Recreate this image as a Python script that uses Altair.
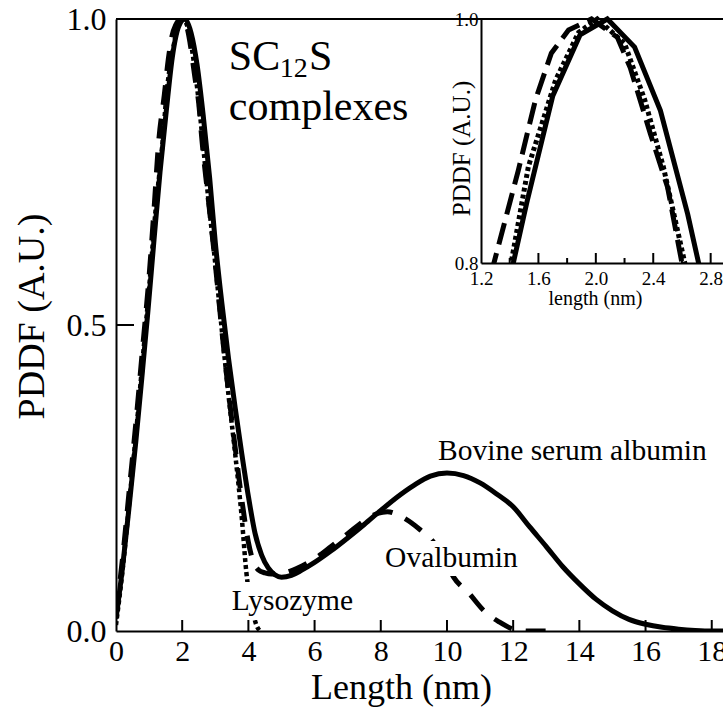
import altair as alt
import pandas as pd

FONT = "Liberation Serif"

# ---------------- data ----------------
# Bovine serum albumin (solid)
BSA_X = [0, 0.2, 0.4, 0.6, 0.8, 0.96, 1.15, 1.33, 1.52, 1.70, 1.89, 2.08, 2.27, 2.45, 2.64,
         2.83, 3.0, 3.2, 3.4, 3.6, 3.8, 4.0, 4.2, 4.4, 4.6, 4.8, 5.0, 5.3, 5.6, 6.0,
         6.5, 7.0, 7.5, 8.0, 8.5, 9.0, 9.5, 10.0, 10.5, 11.0, 11.5, 12.0, 12.5, 13.0, 13.5,
         14.0, 14.5, 15.0, 15.5, 16.0, 16.5, 17.0, 17.5, 18.0, 18.5]
BSA_Y = [0.02, 0.105, 0.205, 0.31, 0.425, 0.52, 0.64, 0.75, 0.85, 0.937, 0.987, 1.0, 0.977, 0.925, 0.84,
         0.74, 0.635, 0.535, 0.445, 0.365, 0.29, 0.22, 0.16, 0.124, 0.103, 0.092, 0.088, 0.091, 0.099, 0.112,
         0.131, 0.152, 0.174, 0.197, 0.219, 0.238, 0.253, 0.258, 0.254, 0.242, 0.224, 0.203, 0.17, 0.138, 0.105,
         0.077, 0.052, 0.033, 0.019, 0.011, 0.006, 0.003, 0.001, 0.0, 0.0]
# Ovalbumin (dashed)
OVA_X = [0, 0.2, 0.4, 0.6, 0.8, 1.0, 1.15, 1.29, 1.46, 1.58, 1.69, 1.81, 1.97, 2.15, 2.24,
         2.38, 2.5, 2.6, 2.8, 3.0, 3.2, 3.4, 3.6, 3.8, 4.0, 4.13, 4.3, 4.5, 4.7, 5.0,
         5.33, 5.54, 6.0, 6.5, 7.0, 7.5, 7.9, 8.2, 8.65, 9.2, 9.55, 9.9, 10.2, 10.66, 11.1,
         11.57, 12.08, 12.5, 13.0]
OVA_Y = [0.03, 0.12, 0.23, 0.34, 0.46, 0.58, 0.69, 0.80, 0.876, 0.934, 0.972, 0.991, 1.0, 0.985, 0.96,
         0.906, 0.862, 0.80, 0.70, 0.60, 0.49, 0.39, 0.30, 0.215, 0.145, 0.116, 0.1, 0.095, 0.093, 0.094,
         0.099, 0.104, 0.118, 0.138, 0.159, 0.18, 0.192, 0.195, 0.186, 0.165, 0.148, 0.12, 0.088, 0.062, 0.034,
         0.015, 0.002, 0.0, 0.0]
# Lysozyme (dotted)
LYS_X = [0, 0.2, 0.4, 0.6, 0.8, 1.0, 1.2, 1.41, 1.53, 1.72, 1.88, 2.01, 2.2, 2.34, 2.47,
         2.62, 2.8, 3.0, 3.2, 3.4, 3.6, 3.8, 3.94, 4.1, 4.24, 4.35]
LYS_Y = [0.01, 0.1, 0.21, 0.32, 0.44, 0.56, 0.69, 0.80, 0.879, 0.95, 0.989, 1.0, 0.98, 0.934, 0.879,
         0.80, 0.70, 0.60, 0.49, 0.385, 0.29, 0.185, 0.095, 0.04, 0.01, 0.0]

MAIN_X_TICKS = [0, 2, 4, 6, 8, 10, 12, 14, 16, 18]
MAIN_Y_TICKS = [0.0, 0.5, 1.0]
INSET_X_TICKS = [1.2, 1.6, 2.0, 2.4, 2.8]
INSET_X_MINOR = [1.4, 1.8, 2.2, 2.6]
INSET_Y_TICKS = [0.8, 1.0]

LABEL_TEXT = ["Bovine serum albumin", "Ovalbumin", "Lysozyme", "SC", "12", "S", "complexes"]
LABEL_X = [9.73, 8.13, 3.50, 3.41, 4.95, 5.83, 3.41]
LABEL_Y = [0.279, 0.105, 0.034, 0.917, 0.905, 0.917, 0.835]
LABEL_SIZE = [29.5, 29.5, 29.5, 42, 28, 42, 42]

# label backgrounds (white boxes that hide the curves behind two labels)
BOX_X0 = [3.42, 8.02]
BOX_X1 = [7.2, 12.3]
BOX_Y0 = [0.018, 0.09]
BOX_Y1 = [0.08, 0.147]

# ---------------- layout ----------------
W, H = 607, 612
X_DOMAIN = [0, 18.34]
Y_DOMAIN = [0, 1.0]
INSET_X_DOMAIN = [1.2, 2.886]
INSET_Y_DOMAIN = [0.8, 1.0]
INSET_LEFT = 365
INSET_H = 244

curves = pd.concat([
    pd.DataFrame({"x": BSA_X, "y": BSA_Y, "s": "BSA"}),
    pd.DataFrame({"x": OVA_X, "y": OVA_Y, "s": "OVA"}),
    pd.DataFrame({"x": LYS_X, "y": LYS_Y, "s": "LYS"}),
], ignore_index=True)

inset_curves = curves[(curves.x >= 1.0) & (curves.x <= 3.0) & (curves.y >= 0.65)]

xs = alt.Scale(domain=X_DOMAIN, nice=False, zero=False)
ys = alt.Scale(domain=Y_DOMAIN, nice=False, zero=False)

x_axis = alt.Axis(orient="bottom", values=MAIN_X_TICKS, format="d", labelFont=FONT, labelFontSize=30,
                  labelColor="black", labelPadding=5, labelFlush=False, ticks=False,
                  domainColor="black", domainWidth=2, grid=False,
                  title="Length (nm)", titleFont=FONT, titleFontSize=36, titleFontWeight="normal",
                  titleColor="black", titleX=285, titleY=67, titleBaseline="alphabetic", titleAlign="center")
y_axis = alt.Axis(orient="left", values=MAIN_Y_TICKS, format=".1f", labelFont=FONT, labelFontSize=32,
                  labelColor="black", labelPadding=10, labelFlush=False, ticks=False,
                  domainColor="black", domainWidth=2, grid=False,
                  title="PDDF (A.U.)", titleFont=FONT, titleFontSize=38, titleFontWeight="normal",
                  titleColor="black", titleAngle=270, titleX=-73, titleY=297,
                  titleBaseline="alphabetic", titleAlign="center")


def MX(f):
    return alt.X(f"{f}:Q", scale=xs, axis=x_axis)


def MY(f):
    return alt.Y(f"{f}:Q", scale=ys, axis=y_axis)


base = alt.Chart(curves)
solid = base.transform_filter(alt.datum.s == "BSA").mark_line(
    color="black", strokeWidth=5, interpolate="monotone", clip=True).encode(x=MX("x"), y=MY("y"))
dashed = base.transform_filter(alt.datum.s == "OVA").mark_line(
    color="black", strokeWidth=5, strokeDash=[20, 14], interpolate="monotone", clip=True).encode(x=MX("x"), y=MY("y"))
dotted = base.transform_filter(alt.datum.s == "LYS").mark_line(
    color="black", strokeWidth=4.5, strokeDash=[4, 3], interpolate="monotone", clip=True).encode(x=MX("x"), y=MY("y"))

xt = alt.Chart(pd.DataFrame({"t": [t for t in MAIN_X_TICKS if t > X_DOMAIN[0]]})).mark_rule(
    color="black", strokeWidth=2).encode(x=MX("t"), y=alt.value(H), y2=alt.value(H - 11))
yt = alt.Chart(pd.DataFrame({"t": [t for t in MAIN_Y_TICKS if Y_DOMAIN[0] < t < Y_DOMAIN[1]]})).mark_rule(
    color="black", strokeWidth=2).encode(y=MY("t"), x=alt.value(0), x2=alt.value(18))
top = alt.Chart(pd.DataFrame({"x0": [X_DOMAIN[0]], "x1": [X_DOMAIN[1]], "y": [Y_DOMAIN[1]]})).mark_rule(
    color="black", strokeWidth=2).encode(x=MX("x0"), x2="x1", y=MY("y"))

boxes = alt.Chart(pd.DataFrame({"bx0": BOX_X0, "bx1": BOX_X1, "by0": BOX_Y0, "by1": BOX_Y1})).mark_rect(
    color="white").encode(x=MX("bx0"), x2="bx1", y=MY("by0"), y2="by1")
texts = alt.Chart(pd.DataFrame({"label": LABEL_TEXT, "lx": LABEL_X, "ly": LABEL_Y, "fs": LABEL_SIZE})).mark_text(
    align="left", baseline="alphabetic", font=FONT, color="black").encode(
    x=MX("lx"), y=MY("ly"), text="label:N", size=alt.Size("fs:Q", scale=None))

main = alt.layer(solid, dashed, dotted, xt, yt, top, boxes, texts)

# ---------------- inset ----------------
ixs = alt.Scale(domain=INSET_X_DOMAIN, range=[INSET_LEFT, W], nice=False, zero=False)
iys = alt.Scale(domain=INSET_Y_DOMAIN, range=[INSET_H, 0], nice=False, zero=False)
ix_axis = alt.Axis(orient="bottom", offset=-(H - INSET_H), values=INSET_X_TICKS, format=".1f",
                   labelFont=FONT, labelFontSize=19, labelColor="black", labelPadding=6, labelFlush=False,
                   ticks=False, domainColor="black", domainWidth=2, grid=False,
                   title="length (nm)", titleFont=FONT, titleFontSize=20, titleFontWeight="normal",
                   titleColor="black", titleX=479, titleY=41, titleBaseline="alphabetic", titleAlign="center",
                   zindex=1)
iy_axis = alt.Axis(orient="left", offset=-INSET_LEFT, values=INSET_Y_TICKS, format=".1f",
                   labelFont=FONT, labelFontSize=19, labelColor="black", labelPadding=3, labelFlush=False,
                   ticks=False, domainColor="black", domainWidth=2, grid=False,
                   title="PDDF (A.U.)", titleFont=FONT, titleFontSize=25, titleFontWeight="normal",
                   titleColor="black", titleAngle=270, titleX=-12, titleY=129,
                   titleBaseline="alphabetic", titleAlign="center", zindex=1)


def IX(f):
    return alt.X(f"{f}:Q", scale=ixs, axis=ix_axis)


def IY(f):
    return alt.Y(f"{f}:Q", scale=iys, axis=iy_axis)


ib = alt.Chart(inset_curves)
i_solid = ib.transform_filter(alt.datum.s == "BSA").mark_line(
    color="black", strokeWidth=5).encode(x=IX("x"), y=IY("y"))
i_dashed = ib.transform_filter(alt.datum.s == "OVA").mark_line(
    color="black", strokeWidth=5, strokeDash=[22, 9]).encode(x=IX("x"), y=IY("y"))
i_dotted = ib.transform_filter(alt.datum.s == "LYS").mark_line(
    color="black", strokeWidth=5, strokeDash=[4, 3]).encode(x=IX("x"), y=IY("y"))
mask = alt.Chart(pd.DataFrame({"mx0": [1.1], "mx1": [2.95], "my0": [0.665], "my1": [INSET_Y_DOMAIN[0]]})).mark_rect(
    color="white").encode(x=IX("mx0"), x2="mx1", y=IY("my0"), y2="my1")
i_major = alt.Chart(pd.DataFrame({"t": INSET_X_TICKS[1:]})).mark_rule(color="black", strokeWidth=2).encode(
    x=IX("t"), y=alt.value(INSET_H), y2=alt.value(INSET_H - 10))
i_minor = alt.Chart(pd.DataFrame({"t": INSET_X_MINOR})).mark_rule(color="black", strokeWidth=2).encode(
    x=IX("t"), y=alt.value(INSET_H), y2=alt.value(INSET_H - 5))

inset = alt.layer(i_solid, i_dashed, i_dotted, mask, i_major, i_minor)

chart = alt.layer(main, inset).resolve_scale(x="independent", y="independent").properties(
    width=W, height=H,
    padding={"left": 116, "top": 19, "right": 0, "bottom": 92},
    autosize=alt.AutoSizeParams(type="none"),
    background="white",
).configure_view(stroke=None).configure_axis(
    labelFont=FONT, titleFont=FONT
).configure_text(font=FONT)

chart.save("out.html", embed_options={"renderer": "svg", "actions": False})
